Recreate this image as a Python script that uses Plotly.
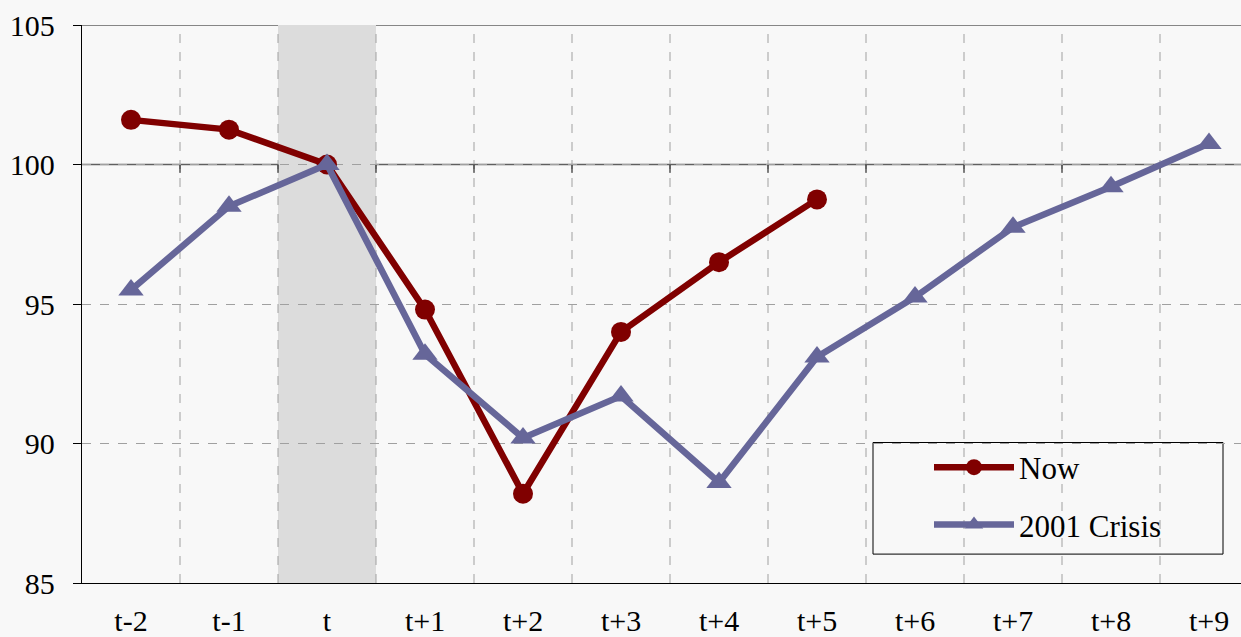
import plotly.graph_objects as go

categories = ["t-2", "t-1", "t", "t+1", "t+2", "t+3", "t+4", "t+5", "t+6", "t+7", "t+8", "t+9"]
now_values = [101.6, 101.25, 100.0, 94.8, 88.2, 94.0, 96.5, 98.75]
crisis_values = [95.5, 98.5, 100.0, 93.2, 90.2, 91.7, 88.6, 93.1, 95.25, 97.75, 99.2, 100.75]
y_ticks = [85, 90, 95, 100, 105]
shaded_category = "t"

x_idx = list(range(len(categories)))
BG = "rgb(248,248,248)"
FONT = "Liberation Serif"

fig = go.Figure()
fig.add_trace(go.Scatter(
    x=x_idx[:len(now_values)], y=now_values, name="Now", mode="lines+markers",
    line=dict(color="#800000", width=6.5),
    marker=dict(symbol="circle", size=20, color="#800000"),
    legendgroup="a",
))
fig.add_trace(go.Scatter(
    x=x_idx[:len(crisis_values)], y=crisis_values, name="2001 Crisis", mode="lines+markers",
    line=dict(color="#666699", width=6.5),
    marker=dict(symbol="triangle-up", size=22, color="#666699"),
    legendgroup="b",
))

shapes = []
si = categories.index(shaded_category)
shapes.append(dict(type="rect", xref="x", yref="y", x0=si - 0.5, x1=si + 0.5, y0=85, y1=105,
                   fillcolor="#dcdcdc", line=dict(width=0), layer="below"))
for i in range(len(categories) - 1):
    b = i + 0.5
    shapes.append(dict(type="line", xref="x", yref="y", x0=b, x1=b, y0=85, y1=105,
                       line=dict(color="#a0a0a0", width=1, dash="dash"), layer="below"))
    shapes.append(dict(type="line", xref="x", yref="y", x0=b, x1=b, y0=100, y1=99.7,
                       line=dict(color="#000000", width=1), layer="below"))
shapes.append(dict(type="line", xref="paper", yref="y", x0=0, x1=1, y0=100, y1=100,
                   line=dict(color="#606060", width=1.3), layer="below"))
shapes.append(dict(type="line", xref="paper", yref="y", x0=0, x1=1, y0=105, y1=105,
                   line=dict(color="#606060", width=1.3), layer="below"))
# legend box
shapes.append(dict(type="rect", xref="paper", yref="paper",
                   x0=(873 - 82) / 1159, x1=(1223 - 82) / 1159,
                   y0=(585 - 556) / 560, y1=(585 - 444) / 560,
                   fillcolor=BG, line=dict(color="#000000", width=1), layer="below"))

fig.update_layout(
    width=1241, height=637,
    margin=dict(l=82, r=0, t=25, b=52),
    paper_bgcolor=BG, plot_bgcolor=BG,
    font=dict(family=FONT, size=30, color="#000000"),
    shapes=shapes,
    legend=dict(x=(929 - 82) / 1159, y=(585 - 442) / 560, xanchor="left", yanchor="top",
                bgcolor="rgba(0,0,0,0)", borderwidth=0, itemwidth=80,
                traceorder="grouped", tracegroupgap=14,
                font=dict(family=FONT, size=31)),
)
fig.update_xaxes(
    range=[-0.5, -0.5 + 1159 / 98], tickvals=x_idx, ticktext=categories,
    showgrid=False, zeroline=False, showline=True, linecolor="#000000", linewidth=1.3,
    ticks="", ticklabelstandoff=11, tickfont=dict(size=30, family=FONT),
)
fig.update_yaxes(
    range=[85, 105], tickvals=y_ticks, showgrid=True, gridcolor="#a0a0a0",
    griddash="dash", gridwidth=1, zeroline=False, showline=True, linecolor="#000000",
    linewidth=1.3, ticks="outside", ticklen=8, tickcolor="#000000",
    ticklabelstandoff=12, tickfont=dict(size=30, family=FONT),
)

fig.write_html("out.html", config={"displayModeBar": False},
               post_script="document.body.style.margin='0';document.body.style.overflow='hidden';")
